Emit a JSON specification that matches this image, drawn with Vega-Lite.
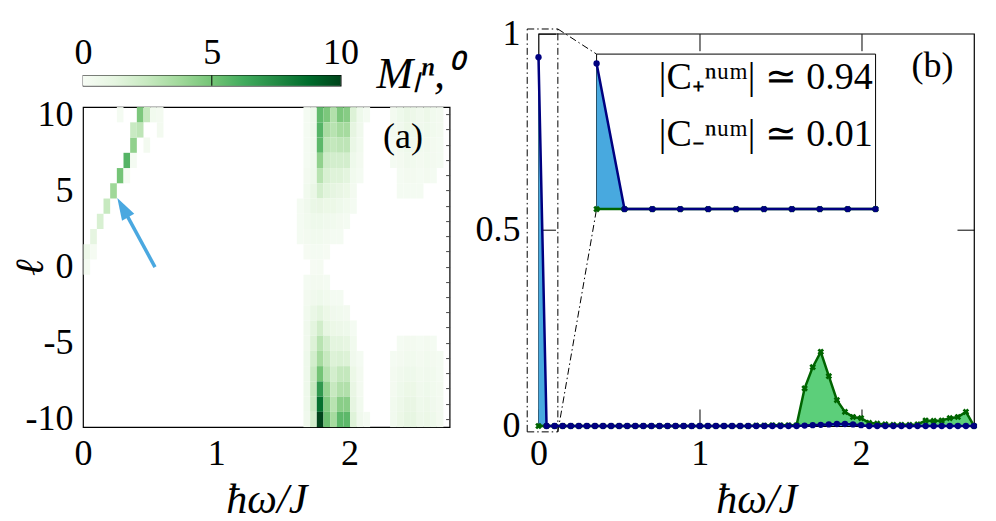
{
  "$schema": "https://vega.github.io/schema/vega-lite/v6.json",
  "padding": {"left": 9, "top": 14.7, "right": 0, "bottom": 0},
  "spacing": 12.5,
  "background": "white",
  "resolve": {"scale": {"x": "independent", "y": "independent"}},
  "datasets": {
    "heat": [
      {"w":0,"l":0,"m":0.3},{"w":0,"l":1,"m":0.7},{"w":0.05,"l":1,"m":0.15},{"w":0.05,"l":2,"m":1.2},{"w":0.1,"l":3,"m":1.8},
      {"w":0.15,"l":4,"m":2.5},{"w":0.2,"l":5,"m":3.8},{"w":0.25,"l":6,"m":5.0},{"w":0.3,"l":6,"m":0.15},{"w":0.3,"l":7,"m":5.8},
      {"w":0.35,"l":7,"m":0.2},{"w":0.35,"l":8,"m":4.2},{"w":0.45,"l":8,"m":0.3},{"w":0.35,"l":9,"m":2.4},{"w":0.4,"l":9,"m":2.8},
      {"w":0.55,"l":9,"m":0.3},{"w":0.25,"l":10,"m":0.2},{"w":0.4,"l":10,"m":4.8},{"w":0.45,"l":10,"m":2.5},{"w":0.5,"l":10,"m":0.4},{"w":0.55,"l":10,"m":0.3},

      {"w":1.65,"l":10,"m":0.2},{"w":1.7,"l":10,"m":0.6},{"w":1.75,"l":10,"m":5.5},{"w":1.8,"l":10,"m":4.8},{"w":1.85,"l":10,"m":3.2},{"w":1.9,"l":10,"m":4.8},{"w":1.95,"l":10,"m":4.5},{"w":2.0,"l":10,"m":1.6},{"w":2.05,"l":10,"m":0.6},{"w":2.1,"l":10,"m":0.2},
      {"w":1.65,"l":9,"m":0.2},{"w":1.7,"l":9,"m":0.6},{"w":1.75,"l":9,"m":5.8},{"w":1.8,"l":9,"m":3.5},{"w":1.85,"l":9,"m":3.0},{"w":1.9,"l":9,"m":3.6},{"w":1.95,"l":9,"m":3.6},{"w":2.0,"l":9,"m":1.2},{"w":2.05,"l":9,"m":0.5},
      {"w":1.65,"l":8,"m":0.2},{"w":1.7,"l":8,"m":0.5},{"w":1.75,"l":8,"m":5.6},{"w":1.8,"l":8,"m":2.8},{"w":1.85,"l":8,"m":2.6},{"w":1.9,"l":8,"m":2.8},{"w":1.95,"l":8,"m":2.8},{"w":2.0,"l":8,"m":0.9},{"w":2.05,"l":8,"m":0.4},
      {"w":1.65,"l":7,"m":0.2},{"w":1.7,"l":7,"m":0.5},{"w":1.75,"l":7,"m":4.2},{"w":1.8,"l":7,"m":2.2},{"w":1.85,"l":7,"m":2.0},{"w":1.9,"l":7,"m":2.0},{"w":1.95,"l":7,"m":2.0},{"w":2.0,"l":7,"m":0.6},{"w":2.05,"l":7,"m":0.3},
      {"w":1.65,"l":6,"m":0.3},{"w":1.7,"l":6,"m":0.6},{"w":1.75,"l":6,"m":3.0},{"w":1.8,"l":6,"m":1.8},{"w":1.85,"l":6,"m":1.5},{"w":1.9,"l":6,"m":1.5},{"w":1.95,"l":6,"m":1.3},{"w":2.0,"l":6,"m":0.4},{"w":2.05,"l":6,"m":0.2},
      {"w":1.65,"l":5,"m":0.4},{"w":1.7,"l":5,"m":0.9},{"w":1.75,"l":5,"m":2.0},{"w":1.8,"l":5,"m":1.4},{"w":1.85,"l":5,"m":1.2},{"w":1.9,"l":5,"m":1.0},{"w":1.95,"l":5,"m":0.8},{"w":2.0,"l":5,"m":0.3},
      {"w":1.6,"l":4,"m":0.2},{"w":1.65,"l":4,"m":0.5},{"w":1.7,"l":4,"m":0.9},{"w":1.75,"l":4,"m":1.0},{"w":1.8,"l":4,"m":0.8},{"w":1.85,"l":4,"m":0.8},{"w":1.9,"l":4,"m":0.6},{"w":1.95,"l":4,"m":0.4},{"w":2.0,"l":4,"m":0.2},
      {"w":1.6,"l":3,"m":0.2},{"w":1.65,"l":3,"m":0.4},{"w":1.7,"l":3,"m":0.6},{"w":1.75,"l":3,"m":0.6},{"w":1.8,"l":3,"m":0.5},{"w":1.85,"l":3,"m":0.4},{"w":1.9,"l":3,"m":0.3},{"w":1.95,"l":3,"m":0.2},
      {"w":1.6,"l":2,"m":0.2},{"w":1.65,"l":2,"m":0.3},{"w":1.7,"l":2,"m":0.4},{"w":1.75,"l":2,"m":0.4},{"w":1.8,"l":2,"m":0.3},{"w":1.85,"l":2,"m":0.2},{"w":1.9,"l":2,"m":0.2},
      {"w":1.65,"l":1,"m":0.1},{"w":1.7,"l":1,"m":0.2},{"w":1.75,"l":1,"m":0.2},{"w":1.8,"l":1,"m":0.1},
      {"w":1.7,"l":0,"m":0.1},{"w":1.75,"l":0,"m":0.15},
      {"w":1.65,"l":-1,"m":0.2},{"w":1.7,"l":-1,"m":0.3},{"w":1.75,"l":-1,"m":0.3},{"w":1.8,"l":-1,"m":0.2},
      {"w":1.65,"l":-2,"m":0.3},{"w":1.7,"l":-2,"m":0.5},{"w":1.75,"l":-2,"m":0.6},{"w":1.8,"l":-2,"m":0.4},{"w":1.85,"l":-2,"m":0.2},{"w":1.9,"l":-2,"m":0.2},
      {"w":1.65,"l":-3,"m":0.4},{"w":1.7,"l":-3,"m":0.9},{"w":1.75,"l":-3,"m":1.3},{"w":1.8,"l":-3,"m":0.8},{"w":1.85,"l":-3,"m":0.5},{"w":1.9,"l":-3,"m":0.4},{"w":1.95,"l":-3,"m":0.3},
      {"w":1.65,"l":-4,"m":0.5},{"w":1.7,"l":-4,"m":1.3},{"w":1.75,"l":-4,"m":2.1},{"w":1.8,"l":-4,"m":1.1},{"w":1.85,"l":-4,"m":0.8},{"w":1.9,"l":-4,"m":0.7},{"w":1.95,"l":-4,"m":0.6},{"w":2.0,"l":-4,"m":0.2},
      {"w":1.65,"l":-5,"m":0.5},{"w":1.7,"l":-5,"m":1.6},{"w":1.75,"l":-5,"m":3.0},{"w":1.8,"l":-5,"m":2.0},{"w":1.85,"l":-5,"m":1.3},{"w":1.9,"l":-5,"m":1.3},{"w":1.95,"l":-5,"m":1.1},{"w":2.0,"l":-5,"m":0.4},
      {"w":1.65,"l":-6,"m":0.6},{"w":1.7,"l":-6,"m":2.0},{"w":1.75,"l":-6,"m":3.6},{"w":1.8,"l":-6,"m":2.5},{"w":1.85,"l":-6,"m":1.6},{"w":1.9,"l":-6,"m":1.7},{"w":1.95,"l":-6,"m":1.6},{"w":2.0,"l":-6,"m":0.5},{"w":2.05,"l":-6,"m":0.2},
      {"w":1.65,"l":-7,"m":0.6},{"w":1.7,"l":-7,"m":2.4},{"w":1.75,"l":-7,"m":5.0},{"w":1.8,"l":-7,"m":3.0},{"w":1.85,"l":-7,"m":2.0},{"w":1.9,"l":-7,"m":2.6},{"w":1.95,"l":-7,"m":2.6},{"w":2.0,"l":-7,"m":0.8},{"w":2.05,"l":-7,"m":0.3},
      {"w":1.65,"l":-8,"m":0.6},{"w":1.7,"l":-8,"m":2.5},{"w":1.75,"l":-8,"m":7.0},{"w":1.8,"l":-8,"m":4.0},{"w":1.85,"l":-8,"m":2.5},{"w":1.9,"l":-8,"m":3.2},{"w":1.95,"l":-8,"m":3.2},{"w":2.0,"l":-8,"m":1.0},{"w":2.05,"l":-8,"m":0.3},
      {"w":1.65,"l":-9,"m":0.6},{"w":1.7,"l":-9,"m":2.4},{"w":1.75,"l":-9,"m":8.6},{"w":1.8,"l":-9,"m":4.6},{"w":1.85,"l":-9,"m":3.0},{"w":1.9,"l":-9,"m":4.4},{"w":1.95,"l":-9,"m":4.4},{"w":2.0,"l":-9,"m":1.2},{"w":2.05,"l":-9,"m":0.4},
      {"w":1.65,"l":-10,"m":0.5},{"w":1.7,"l":-10,"m":2.0},{"w":1.75,"l":-10,"m":10.0},{"w":1.8,"l":-10,"m":5.2},{"w":1.85,"l":-10,"m":3.6},{"w":1.9,"l":-10,"m":5.6},{"w":1.95,"l":-10,"m":5.6},{"w":2.0,"l":-10,"m":1.5},{"w":2.05,"l":-10,"m":0.5},{"w":2.1,"l":-10,"m":0.2},

      {"w":2.3,"l":10,"m":0.3},{"w":2.35,"l":10,"m":0.6},{"w":2.4,"l":10,"m":0.9},{"w":2.45,"l":10,"m":0.7},{"w":2.5,"l":10,"m":0.5},{"w":2.55,"l":10,"m":0.7},{"w":2.6,"l":10,"m":0.4},{"w":2.65,"l":10,"m":0.3},
      {"w":2.3,"l":9,"m":0.3},{"w":2.35,"l":9,"m":0.5},{"w":2.4,"l":9,"m":0.8},{"w":2.45,"l":9,"m":0.6},{"w":2.5,"l":9,"m":0.5},{"w":2.55,"l":9,"m":0.6},{"w":2.6,"l":9,"m":0.4},{"w":2.65,"l":9,"m":0.3},
      {"w":2.3,"l":8,"m":0.2},{"w":2.35,"l":8,"m":0.4},{"w":2.4,"l":8,"m":0.6},{"w":2.45,"l":8,"m":0.5},{"w":2.5,"l":8,"m":0.4},{"w":2.55,"l":8,"m":0.5},{"w":2.6,"l":8,"m":0.3},{"w":2.65,"l":8,"m":0.2},
      {"w":2.3,"l":7,"m":0.2},{"w":2.35,"l":7,"m":0.3},{"w":2.4,"l":7,"m":0.5},{"w":2.45,"l":7,"m":0.4},{"w":2.5,"l":7,"m":0.3},{"w":2.55,"l":7,"m":0.4},{"w":2.6,"l":7,"m":0.3},{"w":2.65,"l":7,"m":0.2},
      {"w":2.35,"l":6,"m":0.2},{"w":2.4,"l":6,"m":0.3},{"w":2.45,"l":6,"m":0.3},{"w":2.5,"l":6,"m":0.2},{"w":2.55,"l":6,"m":0.3},{"w":2.6,"l":6,"m":0.2},
      {"w":2.35,"l":5,"m":0.2},{"w":2.4,"l":5,"m":0.2},{"w":2.45,"l":5,"m":0.2},{"w":2.5,"l":5,"m":0.2},
      {"w":2.35,"l":-5,"m":0.2},{"w":2.4,"l":-5,"m":0.3},{"w":2.45,"l":-5,"m":0.3},{"w":2.5,"l":-5,"m":0.2},{"w":2.55,"l":-5,"m":0.3},{"w":2.6,"l":-5,"m":0.2},
      {"w":2.3,"l":-6,"m":0.2},{"w":2.35,"l":-6,"m":0.3},{"w":2.4,"l":-6,"m":0.4},{"w":2.45,"l":-6,"m":0.4},{"w":2.5,"l":-6,"m":0.3},{"w":2.55,"l":-6,"m":0.4},{"w":2.6,"l":-6,"m":0.3},{"w":2.65,"l":-6,"m":0.2},
      {"w":2.3,"l":-7,"m":0.3},{"w":2.35,"l":-7,"m":0.5},{"w":2.4,"l":-7,"m":0.6},{"w":2.45,"l":-7,"m":0.6},{"w":2.5,"l":-7,"m":0.4},{"w":2.55,"l":-7,"m":0.5},{"w":2.6,"l":-7,"m":0.4},{"w":2.65,"l":-7,"m":0.2},
      {"w":2.3,"l":-8,"m":0.3},{"w":2.35,"l":-8,"m":0.6},{"w":2.4,"l":-8,"m":0.8},{"w":2.45,"l":-8,"m":0.8},{"w":2.5,"l":-8,"m":0.5},{"w":2.55,"l":-8,"m":0.6},{"w":2.6,"l":-8,"m":0.4},{"w":2.65,"l":-8,"m":0.3},
      {"w":2.3,"l":-9,"m":0.4},{"w":2.35,"l":-9,"m":0.7},{"w":2.4,"l":-9,"m":1.0},{"w":2.45,"l":-9,"m":1.0},{"w":2.5,"l":-9,"m":0.6},{"w":2.55,"l":-9,"m":0.7},{"w":2.6,"l":-9,"m":0.5},{"w":2.65,"l":-9,"m":0.3},
      {"w":2.3,"l":-10,"m":0.4},{"w":2.35,"l":-10,"m":0.8},{"w":2.4,"l":-10,"m":1.1},{"w":2.45,"l":-10,"m":1.1},{"w":2.5,"l":-10,"m":0.7},{"w":2.55,"l":-10,"m":0.8},{"w":2.6,"l":-10,"m":0.6},{"w":2.65,"l":-10,"m":0.3}
    ],
    "ells": [
      {"l":10},{"l":9},{"l":8},{"l":7},{"l":6},{"l":5},{"l":4},{"l":3},{"l":2},{"l":1},{"l":0},
      {"l":-1},{"l":-2},{"l":-3},{"l":-4},{"l":-5},{"l":-6},{"l":-7},{"l":-8},{"l":-9},{"l":-10}
    ],
    "cbar": [{"lo":0,"mid":5,"hi":10}],
    "arrow": [{"x":0.54,"y":0.0,"x2":0.298,"y2":3.9}],
    "arrowhead": [{"x":0.298,"y":3.9}],
    "labelA": [{"x":2.40,"y":8.55,"t":"(a)"}],
    "cplus": [
      {"w":0,"v":0.94},{"w":0.05,"v":0},{"w":0.1,"v":0},{"w":0.15,"v":0},{"w":0.2,"v":0},{"w":0.25,"v":0},{"w":0.3,"v":0},{"w":0.35,"v":0},{"w":0.4,"v":0},{"w":0.45,"v":0},
      {"w":0.5,"v":0},{"w":0.55,"v":0},{"w":0.6,"v":0},{"w":0.65,"v":0},{"w":0.7,"v":0},{"w":0.75,"v":0},{"w":0.8,"v":0},{"w":0.85,"v":0},{"w":0.9,"v":0},{"w":0.95,"v":0},
      {"w":1.0,"v":0},{"w":1.05,"v":0},{"w":1.1,"v":0},{"w":1.15,"v":0},{"w":1.2,"v":0},{"w":1.25,"v":0},{"w":1.3,"v":0},{"w":1.35,"v":0},{"w":1.4,"v":0},{"w":1.45,"v":0},
      {"w":1.5,"v":0},{"w":1.55,"v":0},{"w":1.6,"v":0},{"w":1.65,"v":0.001},{"w":1.7,"v":0.002},{"w":1.75,"v":0.003},{"w":1.8,"v":0.004},{"w":1.85,"v":0.005},{"w":1.9,"v":0.005},{"w":1.95,"v":0.004},
      {"w":2.0,"v":0.002},{"w":2.05,"v":0},{"w":2.1,"v":0},{"w":2.15,"v":0},{"w":2.2,"v":0},{"w":2.25,"v":0},{"w":2.3,"v":0},{"w":2.35,"v":0},{"w":2.4,"v":0},{"w":2.45,"v":0},
      {"w":2.5,"v":0},{"w":2.55,"v":0},{"w":2.6,"v":0},{"w":2.65,"v":0},{"w":2.7,"v":0}
    ],
    "cminus": [
      {"w":0,"v":0},{"w":0.05,"v":0},{"w":0.1,"v":0},{"w":0.15,"v":0},{"w":0.2,"v":0},{"w":0.25,"v":0},{"w":0.3,"v":0},{"w":0.35,"v":0},{"w":0.4,"v":0},{"w":0.45,"v":0},
      {"w":0.5,"v":0},{"w":0.55,"v":0},{"w":0.6,"v":0},{"w":0.65,"v":0},{"w":0.7,"v":0},{"w":0.75,"v":0},{"w":0.8,"v":0},{"w":0.85,"v":0},{"w":0.9,"v":0},{"w":0.95,"v":0},
      {"w":1.0,"v":0},{"w":1.05,"v":0},{"w":1.1,"v":0},{"w":1.15,"v":0},{"w":1.2,"v":0},{"w":1.25,"v":0},{"w":1.3,"v":0},{"w":1.35,"v":0.001},{"w":1.4,"v":0.001},{"w":1.45,"v":0.002},
      {"w":1.5,"v":0.002},{"w":1.55,"v":0.002},{"w":1.6,"v":0.002},{"w":1.65,"v":0.096},{"w":1.7,"v":0.15},{"w":1.75,"v":0.189},{"w":1.8,"v":0.127},{"w":1.85,"v":0.066},{"w":1.9,"v":0.036},{"w":1.95,"v":0.023},
      {"w":2.0,"v":0.02},{"w":2.05,"v":0.008},{"w":2.1,"v":0.006},{"w":2.15,"v":0.004},{"w":2.2,"v":0.003},{"w":2.25,"v":0.003},{"w":2.3,"v":0.003},{"w":2.35,"v":0.004},{"w":2.4,"v":0.014},{"w":2.45,"v":0.013},
      {"w":2.5,"v":0.014},{"w":2.55,"v":0.02},{"w":2.6,"v":0.023},{"w":2.65,"v":0.036},{"w":2.7,"v":0}
    ],
    "zoombox": [
      {"x":-0.07,"y":-0.015,"x2":-0.07,"y2":1.012},
      {"x":0.12,"y":-0.015,"x2":0.12,"y2":1.012},
      {"x":-0.07,"y":1.012,"x2":0.12,"y2":1.012},
      {"x":-0.07,"y":-0.015,"x2":0.12,"y2":-0.015},
      {"x":0.12,"y":1.012,"x2":0.36,"y2":0.948},
      {"x":0.12,"y":-0.015,"x2":0.36,"y2":0.553}
    ],
    "labelB": [{"x":2.443,"y":0.918,"t":"(b)"}],
    "insetPlus": [
      {"k":0,"v":0.94},{"k":0.05,"v":0},{"k":0.1,"v":0},{"k":0.15,"v":0},{"k":0.2,"v":0},{"k":0.25,"v":0},
      {"k":0.3,"v":0},{"k":0.35,"v":0},{"k":0.4,"v":0},{"k":0.45,"v":0},{"k":0.5,"v":0}
    ],
    "insetMinus": [
      {"k":0,"v":0},{"k":0.05,"v":0},{"k":0.1,"v":0},{"k":0.15,"v":0},{"k":0.2,"v":0},{"k":0.25,"v":0},
      {"k":0.3,"v":0},{"k":0.35,"v":0},{"k":0.4,"v":0},{"k":0.45,"v":0},{"k":0.5,"v":0}
    ],
    "insetBox": [{"x":0,"x2":0.5,"y":0,"y2":1}],
    "insetText": [
      {"x":0.495,"y":0.849,"t":"|C₊ⁿᵘᵐ| ≃ 0.94"},
      {"x":0.495,"y":0.479,"t":"|C₋ⁿᵘᵐ| ≃ 0.01"}
    ]
  },
  "hconcat": [
    {
      "bounds": "flush",
      "spacing": 20.7,
      "resolve": {"scale": {"x": "independent", "y": "independent", "color": "independent"}},
      "vconcat": [
        {
          "width": 257.6,
          "height": 20.6,
          "data": {"name": "cbar"},
          "view": {"stroke": null},
          "mark": {"type": "rule", "opacity": 0},
          "encoding": {
            "x": {"field": "lo", "type": "quantitative", "axis": null}
          }
        },
        {
          "width": 257.6,
          "height": 10.3,
          "data": {"name": "cbar"},
          "layer": [
            {
              "mark": {"type": "rect", "fill": {"gradient": "linear", "x1": 0, "y1": 0, "x2": 1, "y2": 0,
                "stops": [
                  {"offset": 0, "color": "#f7fcf5"}, {"offset": 0.125, "color": "#e5f5e0"}, {"offset": 0.25, "color": "#c7e9c0"},
                  {"offset": 0.375, "color": "#a1d99b"}, {"offset": 0.5, "color": "#74c476"}, {"offset": 0.625, "color": "#41ab5d"},
                  {"offset": 0.75, "color": "#238b45"}, {"offset": 0.875, "color": "#006d2c"}, {"offset": 1, "color": "#00441b"}]}},
              "encoding": {
                "x": {"field": "lo", "type": "quantitative", "scale": {"domain": [0, 10], "nice": false, "zero": false},
                      "axis": {"orient": "top", "values": [0, 5, 10], "format": "d", "ticks": false, "labelFlush": false, "labelPadding": 4,
                               "title": "Mₗⁿ,⁰", "titleFontSize": 44, "titleFontStyle": "italic", "titleAngle": 0, "titleAlign": "left",
                               "titleBaseline": "alphabetic", "titleX": 293, "titleY": 12}},
                "x2": {"field": "hi"}
              }
            },
            {
              "mark": {"type": "rule", "color": "black", "strokeWidth": 1},
              "encoding": {
                "x": {"field": "mid", "type": "quantitative"}
              }
            }
          ]
        },
        {
          "width": 366.6,
          "height": 320,
          "layer": [
            {
              "data": {"name": "heat"},
              "mark": {"type": "rect"},
              "encoding": {
                "x": {"field": "w", "type": "quantitative", "bin": {"binned": true, "step": 0.05},
                      "scale": {"domain": [0, 2.75], "nice": false, "zero": false},
                      "axis": {"values": [0, 1, 2], "format": "d", "ticks": false, "labelFlush": false, "labelPadding": 9, "title": "ħω/J", "titleFontStyle": "italic", "titleFontSize": 42, "titlePadding": 8}},
                "y": {"field": "l", "type": "ordinal",
                      "scale": {"domain": [10,9,8,7,6,5,4,3,2,1,0,-1,-2,-3,-4,-5,-6,-7,-8,-9,-10], "paddingInner": 0, "paddingOuter": 0},
                      "axis": {"values": [10, 5, 0, -5, -10], "ticks": false, "labelPadding": 10, "labelAngle": 0, "title": "ℓ", "titleFontStyle": "italic", "titleFontSize": 40, "titlePadding": -25}},
                "color": {"field": "m", "type": "quantitative",
                          "scale": {"domain": [0, 1.25, 2.5, 3.75, 5, 6.25, 7.5, 8.75, 10],
                                    "range": ["#f7fcf5", "#e5f5e0", "#c7e9c0", "#a1d99b", "#74c476", "#41ab5d", "#238b45", "#006d2c", "#00441b"]},
                          "legend": null}
              }
            },
            {
              "data": {"name": "ells"},
              "mark": {"type": "tick", "opacity": 0},
              "encoding": {
                "y": {"field": "l", "type": "ordinal",
                      "scale": {"domain": [10,9,8,7,6,5,4,3,2,1,0,-1,-2,-3,-4,-5,-6,-7,-8,-9,-10], "paddingInner": 0, "paddingOuter": 0},
                      "axis": {"orient": "right", "labels": false, "ticks": true, "tickSize": -4, "tickWidth": 1, "tickColor": "#444", "title": null, "minExtent": 0, "maxExtent": 0}}
              }
            },
            {
              "data": {"name": "arrow"},
              "mark": {"type": "rule", "color": "#4aa8e0", "strokeWidth": 3.5},
              "encoding": {
                "x": {"field": "x", "type": "quantitative"},
                "y": {"field": "y", "type": "quantitative", "scale": {"domain": [-10.5, 10.5], "nice": false, "zero": false}, "axis": null},
                "x2": {"field": "x2"},
                "y2": {"field": "y2"}
              }
            },
            {
              "data": {"name": "arrowhead"},
              "mark": {"type": "point", "shape": "M0,-1L0.64,1L-0.64,1Z", "filled": true, "color": "#4aa8e0", "opacity": 1, "size": 484, "angle": -29.5},
              "encoding": {
                "x": {"field": "x", "type": "quantitative"},
                "y": {"field": "y", "type": "quantitative", "scale": {"domain": [-10.5, 10.5], "nice": false, "zero": false}, "axis": null}
              }
            },
            {
              "data": {"name": "labelA"},
              "mark": {"type": "text", "font": "Liberation Serif", "fontSize": 36, "color": "black"},
              "encoding": {
                "x": {"field": "x", "type": "quantitative"},
                "y": {"field": "y", "type": "quantitative", "scale": {"domain": [-10.5, 10.5], "nice": false, "zero": false}, "axis": null},
                "text": {"field": "t"}
              }
            }
          ],
          "resolve": {"scale": {"y": "independent"}}
        }
      ]
    },
    {
      "width": 435.5,
      "height": 392.3,
      "layer": [
        {
          "layer": [
            {
              "data": {"name": "zoombox"},
              "mark": {"type": "rule", "color": "black", "strokeWidth": 1, "strokeDash": [7, 3, 1.5, 3]},
              "encoding": {
                "x": {"field": "x", "type": "quantitative", "axis": null},
                "y": {"field": "y", "type": "quantitative", "axis": null},
                "x2": {"field": "x2"},
                "y2": {"field": "y2"}
              }
            },
            {
              "data": {"name": "cminus"},
              "mark": {"type": "area", "color": "#5ccf7a", "opacity": 1},
              "encoding": {
                "x": {"field": "w", "type": "quantitative", "scale": {"domain": [0, 2.7], "nice": false, "zero": false},
                      "axis": {"orient": "bottom", "values": [0, 1, 2], "format": "d", "tickSize": -17, "tickWidth": 1, "labelFlush": false, "labelPadding": 28, "title": "ħω/J", "titleFontStyle": "italic", "titleFontSize": 42, "titlePadding": 8}},
                "y": {"field": "v", "type": "quantitative", "scale": {"domain": [0, 1], "nice": false},
                      "axis": {"orient": "left", "values": [0, 0.5, 1], "format": "~g", "tickSize": -17, "tickWidth": 1, "labelFlush": false, "labelPadding": 35.5, "title": null}}
              }
            },
            {
              "data": {"name": "cplus"},
              "mark": {"type": "area", "color": "#48a9df", "opacity": 1},
              "encoding": {
                "x": {"field": "w", "type": "quantitative",
                      "axis": {"orient": "top", "values": [1, 2], "labels": false, "tickSize": -17, "tickWidth": 1, "title": null, "minExtent": 0, "maxExtent": 0}},
                "y": {"field": "v", "type": "quantitative",
                      "axis": {"orient": "right", "values": [0.5], "labels": false, "tickSize": -17, "tickWidth": 1, "title": null, "minExtent": 0, "maxExtent": 0}}
              }
            },
            {
              "data": {"name": "cminus"},
              "mark": {"type": "line", "color": "#006400", "strokeWidth": 2.5},
              "encoding": {
                "x": {"field": "w", "type": "quantitative", "axis": null},
                "y": {"field": "v", "type": "quantitative", "axis": null}
              }
            },
            {
              "data": {"name": "cminus"},
              "mark": {"type": "point", "shape": "cross", "angle": 45, "filled": true, "color": "#006400", "opacity": 1, "size": 45},
              "encoding": {
                "x": {"field": "w", "type": "quantitative", "axis": null},
                "y": {"field": "v", "type": "quantitative", "axis": null}
              }
            },
            {
              "data": {"name": "cplus"},
              "mark": {"type": "line", "color": "#000080", "strokeWidth": 2.5},
              "encoding": {
                "x": {"field": "w", "type": "quantitative", "axis": null},
                "y": {"field": "v", "type": "quantitative", "axis": null}
              }
            },
            {
              "data": {"name": "cplus"},
              "mark": {"type": "point", "shape": "circle", "filled": true, "color": "#000080", "opacity": 1, "size": 40},
              "encoding": {
                "x": {"field": "w", "type": "quantitative", "axis": null},
                "y": {"field": "v", "type": "quantitative", "axis": null}
              }
            },
            {
              "data": {"name": "labelB"},
              "mark": {"type": "text", "font": "Liberation Serif", "fontSize": 36, "color": "black"},
              "encoding": {
                "x": {"field": "x", "type": "quantitative", "axis": null},
                "y": {"field": "y", "type": "quantitative", "axis": null},
                "text": {"field": "t"}
              }
            }
          ],
          "resolve": {"axis": {"x": "independent", "y": "independent"}}
        },
        {
          "layer": [
            {
              "data": {"name": "insetBox"},
              "mark": {"type": "rect", "fill": "white", "stroke": "black", "strokeWidth": 1},
              "encoding": {
                "x": {"field": "x", "type": "quantitative", "scale": {"domain": [-0.1041, 0.6764], "nice": false, "zero": false}, "axis": null},
                "x2": {"field": "x2"},
                "y": {"field": "y", "type": "quantitative", "scale": {"domain": [-1.3994, 1.1316], "nice": false, "zero": false}, "axis": null},
                "y2": {"field": "y2"}
              }
            },
            {
              "data": {"name": "insetPlus"},
              "mark": {"type": "area", "color": "#48a9df", "opacity": 1},
              "encoding": {
                "x": {"field": "k", "type": "quantitative", "axis": null},
                "y": {"field": "v", "type": "quantitative", "axis": null}
              }
            },
            {
              "data": {"name": "insetMinus"},
              "mark": {"type": "line", "color": "#006400", "strokeWidth": 2.5},
              "encoding": {
                "x": {"field": "k", "type": "quantitative", "axis": null},
                "y": {"field": "v", "type": "quantitative", "axis": null}
              }
            },
            {
              "data": {"name": "insetMinus"},
              "mark": {"type": "point", "shape": "cross", "angle": 45, "filled": true, "color": "#006400", "opacity": 1, "size": 45},
              "encoding": {
                "x": {"field": "k", "type": "quantitative", "axis": null},
                "y": {"field": "v", "type": "quantitative", "axis": null}
              }
            },
            {
              "data": {"name": "insetPlus"},
              "mark": {"type": "line", "color": "#000080", "strokeWidth": 2.5},
              "encoding": {
                "x": {"field": "k", "type": "quantitative", "axis": null},
                "y": {"field": "v", "type": "quantitative", "axis": null}
              }
            },
            {
              "data": {"name": "insetPlus"},
              "mark": {"type": "point", "shape": "circle", "filled": true, "color": "#000080", "opacity": 1, "size": 40},
              "encoding": {
                "x": {"field": "k", "type": "quantitative", "axis": null},
                "y": {"field": "v", "type": "quantitative", "axis": null}
              }
            },
            {
              "data": {"name": "insetText"},
              "mark": {"type": "text", "font": "Liberation Serif", "fontSize": 38, "color": "black", "align": "right"},
              "encoding": {
                "x": {"field": "x", "type": "quantitative", "axis": null},
                "y": {"field": "y", "type": "quantitative", "axis": null},
                "text": {"field": "t"}
              }
            }
          ]
        }
      ],
      "resolve": {"scale": {"x": "independent", "y": "independent"}}
    }
  ],
  "config": {
    "font": "Liberation Serif",
    "view": {"stroke": "black", "strokeWidth": 1.2},
    "title": {"font": "Liberation Serif"},
    "axis": {"labelFont": "Liberation Serif", "titleFont": "Liberation Serif", "labelColor": "black", "titleColor": "black",
             "labelFontSize": 36, "titleFontSize": 40, "titleFontWeight": "normal", "grid": false, "domain": false, "tickColor": "black"}
  }
}
